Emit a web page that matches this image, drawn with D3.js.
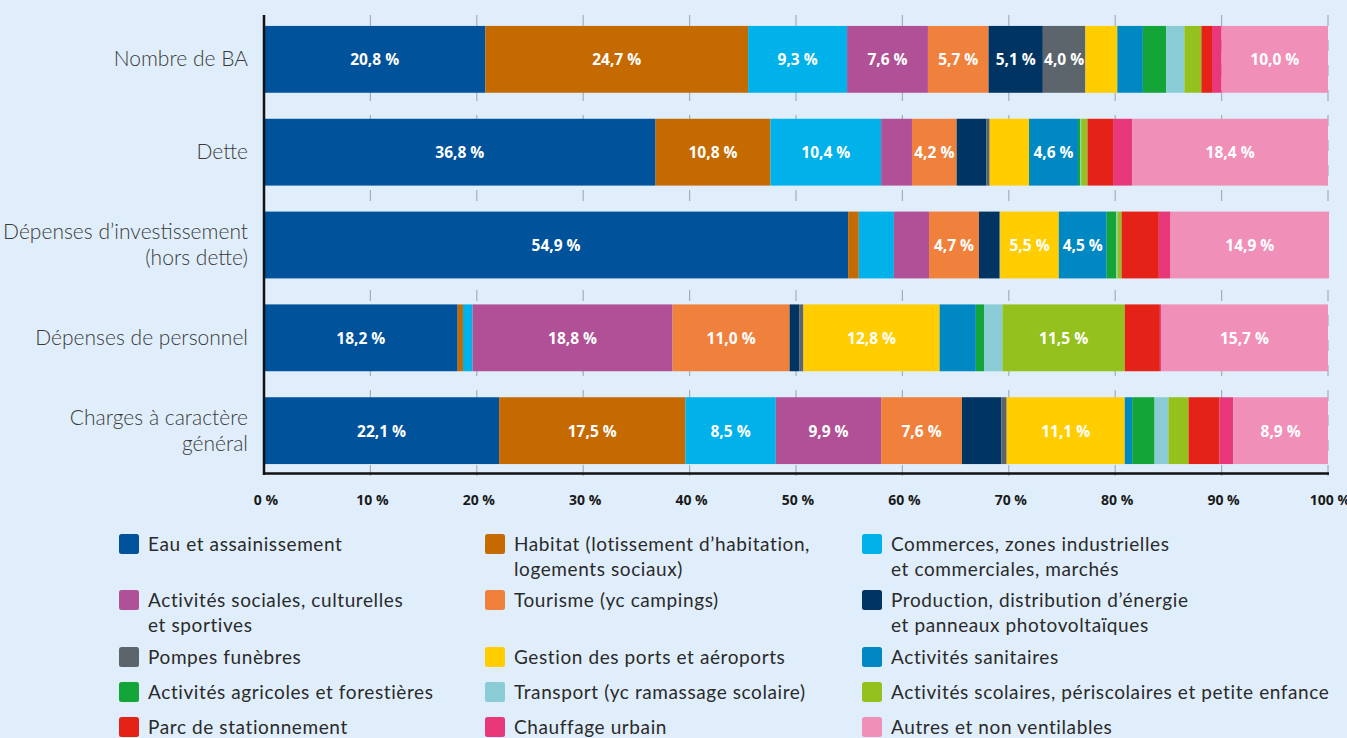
<!DOCTYPE html>
<html>
<head>
<meta charset="utf-8">
<script src="https://cdn.jsdelivr.net/npm/d3@7"></script>
<style>
  body { margin: 0; background: #e0eefb; }
  svg { display: block; }
</style>
</head>
<body>
<div id="chart"></div>
<script>
// données
const categories = [
  'Nombre de  BA',
  'Dette',
  "Dépenses d’investissement\n(hors dette)",
  'Dépenses de personnel',
  'Charges à caractère\ngénéral'
];

const series = [
  'Eau et assainissement',
  "Habitat (lotissement d’habitation,\nlogements sociaux)",
  'Commerces, zones industrielles\net commerciales, marchés',
  'Activités sociales, culturelles\net sportives',
  'Tourisme (yc campings)',
  "Production, distribution d’énergie\net panneaux photovoltaïques",
  'Pompes funèbres',
  'Gestion des ports et aéroports',
  'Activités sanitaires',
  'Activités agricoles et forestières',
  'Transport (yc ramassage scolaire)',
  'Activités scolaires, périscolaires et petite enfance',
  'Parc de stationnement',
  'Chauffage urbain',
  'Autres et non ventilables'
];

const colors = [
  '#00529b', '#c56a00', '#00b2e9', '#b05096', '#f0813d',
  '#003462', '#5b656b', '#ffcd00', '#0088c3', '#13a538',
  '#8accd5', '#95c11f', '#e42218', '#e8387a', '#f08fb8'
];

// une ligne par catégorie, dans l'ordre des séries
const nombreBA     = [20.8, 24.7, 9.3, 7.6, 5.7, 5.1, 4.0, 3.0, 2.4, 2.2, 1.7, 1.6, 1.0, 0.9, 10.0];
const dette        = [36.8, 10.8, 10.4, 2.9, 4.2, 2.8, 0.3, 3.7, 4.6, 0.2, 0.1, 0.6, 2.4, 1.8, 18.4];
const investis     = [54.9, 1.0, 3.3, 3.3, 4.7, 1.9, 0.1, 5.5, 4.5, 0.9, 0.1, 0.4, 3.5, 1.1, 14.9];
const personnel    = [18.2, 0.5, 0.9, 18.8, 11.0, 0.9, 0.4, 12.8, 3.4, 0.8, 1.7, 11.5, 3.3, 0.1, 15.7];
const charges      = [22.1, 17.5, 8.5, 9.9, 7.6, 3.7, 0.5, 11.1, 0.7, 2.1, 1.3, 1.9, 2.9, 1.3, 8.9];

const values = [nombreBA, dette, investis, personnel, charges];
const ticks = [0, 10, 20, 30, 40, 50, 60, 70, 80, 90, 100];

// svg
const svgWidth = 1347;
const svgHeight = 738;
const svg = d3.select('#chart')
  .append('svg')
  .attr('width', svgWidth)
  .attr('height', svgHeight);

const x = d3.scaleLinear().domain([0, 100]).range([264, 1328]);
const y = d3.scaleBand()
  .domain(categories)
  .range([16, 474])
  .paddingInner(0.28)
  .paddingOuter(0.107);

const fmt = v => d3.format('.1f')(v).replace('.', ',') + ' %';

// grille pointillée
svg.append('g')
  .selectAll('line')
  .data(ticks.slice(1))
  .join('line')
  .attr('x1', d => x(d)).attr('x2', d => x(d))
  .attr('y1', 15).attr('y2', 488)
  .attr('stroke', '#a7adb3')
  .attr('stroke-width', 1.2)
  .attr('stroke-dasharray', '11,14');

// barres empilées
const table = categories.map((c, i) => {
  const row = { cat: c };
  series.forEach((s, j) => { row[s] = values[i][j]; });
  return row;
});
const stack = d3.stack().keys(series)(table);

const layer = svg.append('g')
  .selectAll('g')
  .data(stack)
  .join('g')
  .attr('fill', (d, i) => colors[i]);

layer.selectAll('rect')
  .data(d => d)
  .join('rect')
  .attr('x', d => x(d[0]))
  .attr('y', d => y(d.data.cat))
  .attr('width', d => x(d[1]) - x(d[0]))
  .attr('height', y.bandwidth());

layer.selectAll('text')
  .data(d => d.filter(p => p[1] - p[0] >= 4))
  .join('text')
  .attr('x', d => (x(d[0]) + x(d[1])) / 2)
  .attr('y', d => y(d.data.cat) + y.bandwidth() / 2 + 6)
  .attr('text-anchor', 'middle')
  .attr('fill', '#fff')
  .style('font', '700 15.5px "Open Sans", sans-serif')
  .text(d => fmt(d[1] - d[0]));

// axes
svg.append('line')
  .attr('x1', 264).attr('x2', 264)
  .attr('y1', 15).attr('y2', 475)
  .attr('stroke', '#111').attr('stroke-width', 2.5);
svg.append('line')
  .attr('x1', 263).attr('x2', 1329)
  .attr('y1', 473.5).attr('y2', 473.5)
  .attr('stroke', '#111').attr('stroke-width', 2.5);

svg.append('g')
  .selectAll('text')
  .data(ticks)
  .join('text')
  .attr('x', d => x(d) + 2)
  .attr('y', 505)
  .attr('text-anchor', 'middle')
  .attr('fill', '#1a1a1a')
  .style('font', '700 14px "Open Sans", sans-serif')
  .text(d => d + ' %');

// libellés des catégories
const catLabel = svg.append('g')
  .selectAll('text')
  .data(categories)
  .join('text')
  .attr('text-anchor', 'end')
  .attr('fill', '#3a3a3a')
  .style('font', '300 21px Lato, sans-serif')
  .attr('transform', d => {
    const n = d.split('\n').length;
    return `translate(248,${y(d) + y.bandwidth() / 2 + 7 - (n - 1) * 13})`;
  });
catLabel.selectAll('tspan')
  .data(d => d.split('\n'))
  .join('tspan')
  .attr('x', 0)
  .attr('dy', (d, i) => i ? 26 : 0)
  .text(d => d);

// légende
const colX = [119, 485, 862];
const rowY = [544, 600, 657, 692, 727];
const legend = svg.append('g')
  .selectAll('g')
  .data(series)
  .join('g')
  .attr('transform', (d, i) => `translate(${colX[i % 3]},${rowY[Math.floor(i / 3)]})`);

legend.append('rect')
  .attr('x', 0).attr('y', -10)
  .attr('width', 20).attr('height', 20)
  .attr('rx', 2.5)
  .attr('fill', (d, i) => colors[i]);

legend.append('text')
  .attr('fill', '#2a2a2a')
  .style('font', '400 19px Lato, sans-serif')
  .style('letter-spacing', '0.6px')
  .attr('transform', 'translate(29,7)')
  .selectAll('tspan')
  .data(d => d.split('\n'))
  .join('tspan')
  .attr('x', 0)
  .attr('dy', (d, i) => i ? 25 : 0)
  .text(d => d);
</script>
</body>
</html>
